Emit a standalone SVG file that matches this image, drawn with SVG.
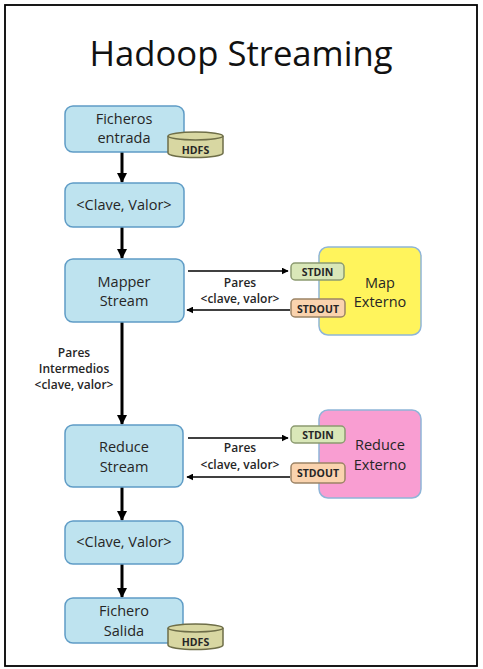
<svg xmlns="http://www.w3.org/2000/svg" width="483" height="669" viewBox="0 0 483 669">
<defs>
<marker id="ah" viewBox="0 0 10 10" refX="9" refY="5" markerWidth="10" markerHeight="10" markerUnits="userSpaceOnUse" orient="auto">
<path d="M0,0 L10,5 L0,10 z" fill="#000"/>
</marker>
<marker id="ahs" viewBox="0 0 10 10" refX="9" refY="5" markerWidth="7" markerHeight="7" markerUnits="userSpaceOnUse" orient="auto">
<path d="M0,0 L10,5 L0,10 z" fill="#000"/>
</marker>
</defs>
<style>
.proc{fill:#BEE3EF;stroke:#5F9CC6;stroke-width:1.5}
.t{font-family:"Open Sans","Liberation Sans",sans-serif;font-size:14.5px;fill:#262626;text-anchor:middle}
.lb{font-family:"Open Sans","Liberation Sans",sans-serif;font-size:12px;font-weight:600;fill:#262626;text-anchor:middle}
.tag{font-family:"Open Sans","Liberation Sans",sans-serif;font-size:10.5px;font-weight:bold;fill:#262626;text-anchor:middle}
.hdfs{fill:#D8D7A2;stroke:#6E6E48;stroke-width:1.5}
.stdin{fill:#D9E7B8;stroke:#8C9B70;stroke-width:1.5}
.stdout{fill:#FAD3AE;stroke:#9C8466;stroke-width:1.5}
.ext{stroke:#8FB5D8;stroke-width:1.5}
.main{stroke:#000;stroke-width:3;fill:none}
.side{stroke:#000;stroke-width:1.5;fill:none}
</style>
<rect x="0" y="0" width="483" height="669" fill="#fff"/>
<rect x="5" y="5" width="472" height="661" fill="none" stroke="#000" stroke-width="1.8"/>
<text x="241" y="66" font-family="'Open Sans','Liberation Sans',sans-serif" font-size="34" fill="#111" text-anchor="middle" textLength="303" lengthAdjust="spacingAndGlyphs">Hadoop Streaming</text>

<g id="connectors">
<line class="main" x1="122" y1="152" x2="122" y2="182" marker-end="url(#ah)"/>
<line class="main" x1="122" y1="227" x2="122" y2="258" marker-end="url(#ah)"/>
<line class="main" x1="122" y1="322" x2="122" y2="424" marker-end="url(#ah)"/>
<line class="main" x1="122" y1="487" x2="122" y2="520" marker-end="url(#ah)"/>
<line class="main" x1="122" y1="564" x2="122" y2="597" marker-end="url(#ah)"/>
<line class="side" x1="188" y1="271" x2="288" y2="271" marker-end="url(#ahs)"/>
<line class="side" x1="290" y1="310" x2="187" y2="310" marker-end="url(#ahs)"/>
<line class="side" x1="188" y1="438" x2="288" y2="438" marker-end="url(#ahs)"/>
<line class="side" x1="290" y1="477" x2="187" y2="477" marker-end="url(#ahs)"/>
<text class="lb" x="240" y="287">Pares</text>
<text class="lb" x="240" y="303">&lt;clave, valor&gt;</text>
<text class="lb" x="240" y="452">Pares</text>
<text class="lb" x="240" y="469">&lt;clave, valor&gt;</text>
<text class="lb" x="74" y="357">Pares</text>
<text class="lb" x="74" y="373">Intermedios</text>
<text class="lb" x="74" y="389">&lt;clave, valor&gt;</text>
</g>

<g id="ficheros-entrada">
<rect class="proc" x="65" y="106" width="119" height="46" rx="8"/>
<text class="t" x="124" y="124">Ficheros</text>
<text class="t" x="124" y="143">entrada</text>
</g>
<g id="hdfs-in">
<path class="hdfs" d="M168,136 L168,153 A27.5,4.5 0 0 0 223,153 L223,136"/>
<ellipse class="hdfs" cx="195.5" cy="136" rx="27.5" ry="4"/>
<text class="tag" x="195.5" y="154" font-size="11.5">HDFS</text>
</g>

<g id="clave-valor-1">
<rect class="proc" x="65" y="183" width="119" height="44" rx="8"/>
<text class="t" x="124" y="210">&lt;Clave, Valor&gt;</text>
</g>

<g id="mapper-stream">
<rect class="proc" x="65" y="259" width="119" height="63" rx="8"/>
<text class="t" x="124" y="287">Mapper</text>
<text class="t" x="124" y="306">Stream</text>
</g>

<g id="map-externo">
<rect class="ext" x="319" y="247" width="102" height="88" rx="9" fill="#FFF45C"/>
<text class="t" x="380" y="288">Map</text>
<text class="t" x="380" y="307">Externo</text>
</g>
<g id="stdin-map">
<rect class="stdin" x="291" y="263" width="53" height="17" rx="4"/>
<text class="tag" x="317.5" y="276">STDIN</text>
</g>
<g id="stdout-map">
<rect class="stdout" x="291" y="299" width="54" height="18" rx="4"/>
<text class="tag" x="318" y="312.5">STDOUT</text>
</g>

<g id="reduce-stream">
<rect class="proc" x="65" y="425" width="118" height="62" rx="8"/>
<text class="t" x="124" y="452">Reduce</text>
<text class="t" x="124" y="472">Stream</text>
</g>

<g id="reduce-externo">
<rect class="ext" x="319" y="410" width="102" height="88" rx="9" fill="#F99ED2"/>
<text class="t" x="380" y="450">Reduce</text>
<text class="t" x="380" y="470">Externo</text>
</g>
<g id="stdin-reduce">
<rect class="stdin" x="291" y="426" width="54" height="17" rx="4"/>
<text class="tag" x="318" y="439">STDIN</text>
</g>
<g id="stdout-reduce">
<rect class="stdout" x="291" y="463" width="54" height="20" rx="4"/>
<text class="tag" x="318" y="477">STDOUT</text>
</g>

<g id="clave-valor-2">
<rect class="proc" x="65" y="521" width="118" height="43" rx="8"/>
<text class="t" x="124" y="547">&lt;Clave, Valor&gt;</text>
</g>

<g id="fichero-salida">
<rect class="proc" x="65" y="598" width="118" height="45" rx="8"/>
<text class="t" x="124" y="616">Fichero</text>
<text class="t" x="124" y="636">Salida</text>
</g>
<g id="hdfs-out">
<path class="hdfs" d="M168,628 L168,645 A27.5,4.5 0 0 0 223,645 L223,628"/>
<ellipse class="hdfs" cx="195.5" cy="628" rx="27.5" ry="4"/>
<text class="tag" x="195.5" y="646" font-size="11.5">HDFS</text>
</g>
</svg>
